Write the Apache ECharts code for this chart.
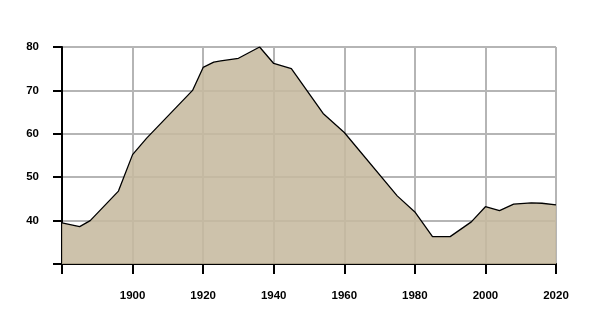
<!DOCTYPE html>
<html>
<head>
<meta charset="utf-8">
<script src="https://cdn.jsdelivr.net/npm/echarts@6/dist/echarts.min.js"></script>
<style>html,body{margin:0;padding:0;background:#fff;}#c{width:595px;height:330px;}</style>
</head>
<body>
<div id="c"></div>
<script>
const years = [1880, 1885, 1888, 1896, 1900, 1904, 1917, 1920, 1923, 1925, 1930, 1936, 1940, 1945, 1954, 1960, 1975, 1980, 1985, 1990, 1996, 2000, 2004, 2008, 2013, 2016, 2020];
const values = [39.5, 38.6, 40, 46.8, 55.2, 59, 70, 75.3, 76.5, 76.8, 77.4, 80, 76.2, 75, 64.7, 60.3, 45.7, 42, 36.3, 36.3, 39.7, 43.2, 42.3, 43.8, 44.1, 44, 43.6];
const xTicks = [1880, 1900, 1920, 1940, 1960, 1980, 2000, 2020];
const yTicks = [30, 40, 50, 60, 70, 80];

const font = {fontFamily: '"Liberation Sans", Arial, sans-serif', fontWeight: 'bold', fontSize: 11.5, color: '#000'};
const chart = echarts.init(document.getElementById('c'), null, {renderer: 'canvas'});
chart.setOption({
  animation: false,
  grid: {left: 62, right: 39, top: 47, bottom: 66},
  xAxis: {
    type: 'value', min: xTicks[0], max: xTicks[xTicks.length - 1], interval: 20,
    axisLine: {show: true, lineStyle: {color: '#000', width: 2}},
    axisTick: {show: true, length: 10, lineStyle: {color: '#000', width: 2}},
    splitLine: {show: true, lineStyle: {color: '#b5b5b5', width: 2}},
    axisLabel: Object.assign({margin: 26, formatter: v => v === xTicks[0] ? '' : String(v)}, font)
  },
  yAxis: {
    type: 'value', min: yTicks[0], max: yTicks[yTicks.length - 1], interval: 10,
    axisLine: {show: true, lineStyle: {color: '#000', width: 2}},
    axisTick: {show: true, length: 9, lineStyle: {color: '#000', width: 2}},
    splitLine: {show: true, lineStyle: {color: '#b5b5b5', width: 2}},
    axisLabel: Object.assign({margin: 23, formatter: v => v === yTicks[0] ? '' : String(v)}, font)
  },
  series: [{
    type: 'line',
    data: years.map((y, i) => [y, values[i]]),
    symbol: 'none',
    lineStyle: {color: '#000', width: 1.3},
    areaStyle: {color: 'rgb(198,185,158)', opacity: 0.87, origin: 'start'},
    z: 1
  }]
});
</script>
</body>
</html>
